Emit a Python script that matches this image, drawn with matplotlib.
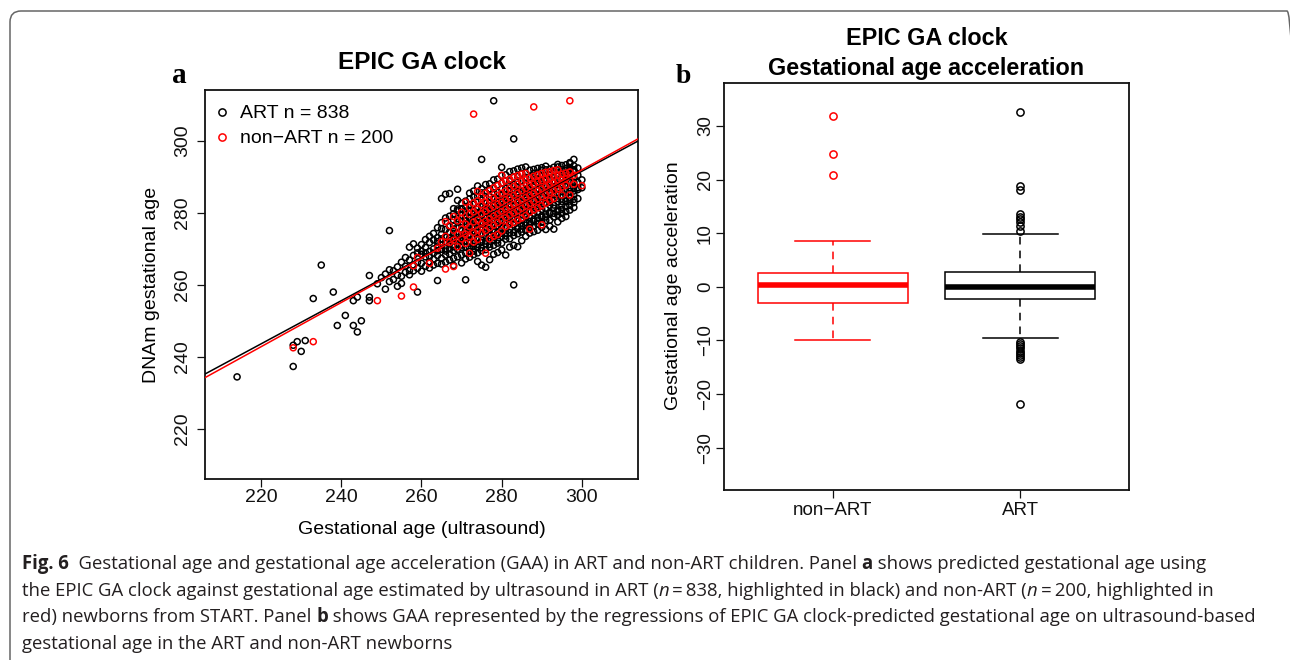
import matplotlib
matplotlib.use("Agg")
import matplotlib.pyplot as plt
from matplotlib import font_manager
from matplotlib.patches import FancyBboxPatch
from matplotlib.transforms import IdentityTransform
from matplotlib.lines import Line2D

# ---------------- data ----------------
# Panel a: ART newborns, grouped by ultrasound gestational age (days)
art_ga = [214, 228, 229, 230, 231, 233, 235, 238, 239, 241, 243, 244, 245, 247,
          249, 250, 251, 252, 253, 254, 255, 256, 257, 258, 259, 260, 261, 262,
          263, 264, 265, 266, 267, 268, 269, 270, 271, 272, 273, 274, 275, 276,
          277, 278, 279, 280, 281, 282, 283, 284, 285, 286, 287, 288, 289, 290,
          291, 292, 293, 294, 295, 296, 297, 298, 299, 300]
art_dnam = [
    [234.4], [237.3, 243.2], [244.2], [241.5], [244.5], [256.2], [265.5], [258.0],
    [248.7], [251.5], [248.7, 255.6], [246.9, 256.6], [250.0], [256.6, 255.6, 262.6],
    [260.3], [262.0], [258.8, 263.0], [275.1, 260.9, 264.2], [263.9, 261.5],
    [259.6, 262.7, 265.0], [260.4, 262.4, 266.3], [263.5, 265.2, 267.6],
    [264.0, 270.5, 262.8, 266.9], [265.5, 268.2, 263.9, 271.4],
    [258.0, 266.3, 268.9, 264.6, 270.2], [266.0, 268.5, 271.2, 263.8, 269.4],
    [265.2, 267.8, 270.4, 272.6, 268.9], [266.4, 269.3, 271.8, 264.7, 273.5, 267.9],
    [267.1, 270.0, 272.5, 265.5, 274.3, 268.8],
    [261.2, 268.2, 270.8, 273.1, 266.0, 275.9, 269.5, 272.0],
    [267.4, 269.9, 272.8, 274.1, 277.3, 265.8, 271.0, 284.0, 275.6],
    [268.3, 270.1, 273.2, 275.4, 266.3, 278.6, 271.9, 285.2, 269.4],
    [268.6, 271.4, 273.0, 276.2, 266.9, 279.1, 274.7, 270.0, 272.3, 285.4],
    [269.5, 271.2, 274.3, 276.5, 267.4, 279.8, 273.0, 275.5, 270.6, 278.0, 265.4, 281.2],
    [269.9, 272.4, 274.2, 277.5, 267.8, 280.6, 273.1, 276.1, 271.2, 278.4, 281.1, 283.5, 286.6],
    [270.4, 272.2, 275.3, 277.6, 268.3, 281.2, 274.0, 276.7, 271.1, 279.3, 266.1, 282.7, 273.2],
    [270.5, 273.4, 275.2, 278.6, 268.8, 281.7, 274.6, 276.8, 272.3, 279.5, 267.2, 283.3, 280.5, 261.4, 277.7],
    [271.6, 273.5, 276.4, 278.5, 269.3, 282.3, 275.1, 277.2, 272.2, 280.4, 267.7, 283.9, 285.5, 270.3, 274.1],
    [271.5, 274.6, 276.3, 279.7, 269.4, 282.4, 275.8, 277.9, 273.3, 280.6, 268.4, 284.5, 286.1, 270.7, 278.6],
    [272.6, 274.5, 277.4, 279.6, 270.4, 283.4, 276.2, 278.8, 273.2, 281.6, 268.9, 284.6, 287.5, 271.2, 266.5, 280.1],
    [272.5, 275.6, 277.5, 280.7, 270.3, 283.5, 276.9, 279.4, 274.3, 281.7, 269.5, 285.6, 286.7, 271.8, 294.9, 265.5],
    [273.6, 275.5, 278.5, 280.8, 271.4, 284.5, 277.3, 279.3, 274.4, 282.8, 269.8, 285.7, 287.9, 264.9, 272.2, 281.6],
    [273.7, 276.6, 278.6, 281.8, 271.3, 284.6, 277.9, 280.5, 275.4, 282.7, 270.5, 286.7, 288.1, 272.8, 267.0, 279.2],
    [274.7, 276.5, 279.6, 281.9, 272.4, 285.6, 278.0, 280.4, 275.3, 283.9, 271.0, 286.8, 289.2, 273.3, 311.2, 268.5, 282.7],
    [274.6, 277.7, 279.5, 282.9, 272.5, 285.7, 278.9, 281.5, 276.5, 283.8, 271.6, 287.8, 289.4, 269.0, 273.8, 280.2],
    [275.7, 277.6, 280.7, 282.8, 273.5, 286.7, 279.0, 281.6, 276.4, 284.9, 271.6, 288.3, 290.4, 292.7, 269.7, 274.3, 283.7],
    [275.8, 278.7, 280.6, 283.9, 273.6, 286.8, 279.9, 282.6, 277.5, 285.0, 272.7, 288.9, 290.6, 274.4, 268.3, 281.4],
    [276.8, 278.8, 281.7, 283.9, 274.5, 287.8, 280.0, 282.5, 277.6, 286.0, 272.8, 288.9, 291.5, 275.4, 270.5, 284.8],
    [276.7, 279.8, 281.8, 284.9, 274.6, 287.9, 281.0, 283.6, 278.6, 286.1, 273.7, 289.9, 291.7, 271.0, 260.0, 300.6, 282.3],
    [277.8, 279.7, 282.8, 285.0, 275.6, 288.9, 281.1, 283.7, 278.5, 287.1, 274.2, 290.1, 292.2, 270.6, 276.3, 285.9],
    [277.9, 280.8, 282.8, 286.0, 275.5, 289.0, 282.1, 284.6, 279.6, 287.2, 274.7, 291.0, 292.5, 276.6, 272.3, 283.4],
    [278.9, 280.9, 283.9, 286.1, 276.6, 289.9, 282.2, 284.8, 279.7, 288.2, 275.2, 291.1, 292.8, 277.3, 273.5, 285.6],
    [278.8, 281.9, 283.8, 287.1, 276.7, 290.0, 283.2, 285.7, 280.7, 288.3, 275.8, 291.9, 277.6, 274.4, 286.4],
    [279.9, 282.0, 284.9, 287.2, 277.7, 291.0, 283.3, 285.8, 280.8, 289.3, 276.3, 292.1, 278.2, 274.8, 290.0],
    [280.0, 283.0, 284.9, 288.2, 277.8, 291.1, 284.3, 286.8, 281.8, 289.4, 276.9, 292.4, 278.7, 275.2, 282.4],
    [281.0, 283.1, 285.9, 288.3, 278.8, 291.9, 284.4, 286.9, 281.9, 290.4, 277.4, 292.6, 279.2, 276.0, 287.7],
    [281.1, 284.0, 286.0, 289.2, 278.9, 292.0, 285.4, 287.8, 282.9, 290.5, 277.9, 279.7, 275.4, 293.0],
    [282.1, 284.2, 287.0, 289.3, 279.8, 292.2, 285.5, 288.0, 283.0, 291.4, 278.0, 280.2, 276.3, 290.6],
    [282.2, 285.1, 287.1, 290.2, 279.9, 292.7, 286.5, 288.9, 283.9, 291.5, 278.9, 275.5, 281.3],
    [283.1, 285.2, 288.0, 290.3, 280.8, 292.8, 286.6, 289.0, 284.0, 291.9, 279.4, 277.5, 280.4, 293.5],
    [283.2, 286.0, 288.1, 291.0, 281.0, 293.2, 287.5, 289.9, 284.9, 292.0, 279.9, 278.5, 282.2],
    [284.0, 286.1, 289.0, 291.1, 281.8, 293.4, 287.6, 290.0, 285.0, 292.3, 280.4, 279.0, 283.2],
    [284.2, 287.0, 289.1, 291.8, 282.1, 293.7, 288.4, 290.7, 286.0, 292.6, 283.3, 280.8, 294.0],
    [285.1, 287.2, 289.9, 292.0, 282.9, 294.9, 288.5, 291.6, 286.1, 293.1, 283.8, 281.5, 291.6],
    [286.5, 288.5, 290.5, 284.0, 292.5, 287.0],
    [289.2, 287.0],
]

# Panel a: non-ART newborns
nonart_ga = [228, 233, 249, 255, 258, 259, 262, 264, 265, 266, 267, 268, 269, 270,
             271, 272, 273, 274, 275, 276, 277, 278, 279, 280, 281, 282, 283, 284,
             285, 286, 287, 288, 289, 290, 291, 292, 293, 294, 295, 296, 297, 298, 300]
nonart_dnam = [
    [242.5], [244.2], [255.6], [256.9], [259.4, 265.3], [267.6], [266.0], [270.2],
    [272.0], [277.6, 273.5, 264.4], [276.5, 271.8], [279.0, 275.2, 272.4, 265.1],
    [277.8, 274.0, 270.6], [278.4, 275.5, 272.8, 280.2], [283.0, 276.9, 274.1, 271.5],
    [279.6, 276.2, 273.4, 268.8, 281.5], [280.3, 277.5, 274.6, 282.8, 271.9, 307.5],
    [281.0, 278.0, 275.2, 283.4, 272.6, 286.0], [279.8, 277.0, 282.3, 274.4, 284.5],
    [280.5, 277.7, 283.0, 275.1, 268.8, 285.5], [281.2, 278.4, 283.6, 275.9, 286.2, 272.8],
    [281.8, 279.1, 284.2, 276.6, 287.0, 273.5], [282.4, 279.7, 284.9, 277.3, 287.6, 274.0],
    [283.0, 280.4, 285.5, 278.0, 288.3, 275.0, 290.5], [283.7, 281.0, 286.1, 278.7, 288.9, 276.2],
    [284.3, 281.7, 286.8, 279.4, 289.4, 276.8], [284.9, 282.4, 287.4, 280.0, 290.0, 277.3],
    [285.5, 283.0, 288.0, 280.6, 290.4, 278.0], [286.2, 283.6, 288.7, 281.3, 290.8, 278.6],
    [286.8, 284.3, 289.2, 282.0, 291.0, 279.3], [287.4, 284.9, 289.7, 282.6, 275.5, 280.2],
    [288.0, 285.5, 290.2, 283.2, 280.8, 309.5], [288.6, 286.1, 290.6, 283.9, 281.4],
    [289.0, 286.7, 291.0, 284.5, 276.7, 282.0], [289.4, 287.3, 291.3, 285.1, 282.7],
    [289.8, 287.8, 291.5, 285.7, 283.4], [290.2, 288.3, 291.8, 286.2, 284.0],
    [290.5, 288.8, 292.0, 286.7], [290.8, 289.2, 287.2, 285.0], [291.1, 289.6, 287.7],
    [291.4, 289.0, 285.0, 311.2], [290.5, 288.0], [287.6],
]

# Regression lines (intercept, slope)
art_fit = (111.6, 0.600)
nonart_fit = (107.5, 0.615)
legend_labels = ["ART n = 838", "non\u2212ART n = 200"]

# Panel b: gestational age acceleration boxplots
groups = ["non\u2212ART", "ART"]
gaa_q1 = [-3.1, -2.3]
gaa_median = [0.3, 0.0]
gaa_q3 = [2.5, 2.7]
gaa_whislo = [-9.9, -9.5]
gaa_whishi = [8.6, 9.9]
nonart_outliers = [31.8, 24.7, 20.8]
art_outliers = [32.5, 18.8, 18.0, 13.5, 13.1, 12.6, 12.1, 11.3, 10.4,
                -10.3, -10.7, -11.1, -11.5, -11.9, -12.3, -12.7, -13.1, -13.4, -21.9]
group_colors = ["#ff0000", "#000000"]

# ---------------- figure ----------------
W, H = 1290, 660
fig = plt.figure(figsize=(W / 100, H / 100), dpi=100)
plt.rcParams['font.family'] = ['Liberation Sans', 'DejaVu Sans']


def fx(x):
    return x / W


def fy(y):
    return 1 - y / H


# outer rounded frame (only top and left edges fall inside the picture)
frame = FancyBboxPatch((10, -60), 1288, H - 11 + 60,
                       boxstyle="round,pad=0,rounding_size=11",
                       transform=IdentityTransform(), fill=False,
                       ec="#666666", lw=1.1)
fig.add_artist(frame)

# ---------- panel a ----------
ax = fig.add_axes([fx(205), fy(479), (638 - 205) / W, (479 - 90) / H])
ax.set_xlim(206, 314)
ax.set_ylim(206, 314.2)

ax_x = [g for g, ys in zip(art_ga, art_dnam) for _ in ys]
ax_y = [y for ys in art_dnam for y in ys]
nx_x = [g for g, ys in zip(nonart_ga, nonart_dnam) for _ in ys]
nx_y = [y for ys in nonart_dnam for y in ys]

ax.scatter(ax_x, ax_y, s=19, facecolors='none', edgecolors='black', linewidths=1.1, zorder=2)
ax.scatter(nx_x, nx_y, s=19, facecolors='none', edgecolors='#ff0000', linewidths=1.1, zorder=3)
ax.axline((0, art_fit[0]), slope=art_fit[1], color='black', lw=1.1, zorder=4)
ax.axline((0, nonart_fit[0]), slope=nonart_fit[1], color='#ff0000', lw=1.1, zorder=5)

ax.set_xticks([220, 240, 260, 280, 300])
ax.set_yticks([220, 240, 260, 280, 300])
ax.tick_params(axis='both', direction='out', length=5.8, width=0.9, labelsize=14, colors='#111111')
ax.tick_params(axis='x', pad=1.5)
ax.tick_params(axis='y', pad=4.0)
for lab in ax.get_yticklabels():
    lab.set_rotation(90)
    lab.set_va('center')
for sp in ax.spines.values():
    sp.set_linewidth(1.3)
    sp.set_color('#111111')

handles = [Line2D([], [], ls='none', marker='o', ms=5.2, mfc='none', mec=c, mew=1.1)
           for c in ['black', '#ff0000']]
ax.legend(handles, legend_labels, loc='upper left', bbox_to_anchor=(0.017, 0.962),
          frameon=False, fontsize=14, handlelength=1.0, handletextpad=0.42,
          labelspacing=0.38, borderpad=0, borderaxespad=0)

fig.text(fx(421.7), fy(69), "EPIC GA clock", ha='center', va='baseline',
         fontsize=17.5, fontweight='bold')
fig.text(fx(421.7), fy(529), "Gestational age (ultrasound)", ha='center', va='center', fontsize=14)
fig.text(fx(152), fy(285), "DNAm gestational age", ha='center', va='center',
         rotation=90, fontsize=14)
fig.text(fx(179), fy(83), "a", ha='center', va='baseline', fontsize=21, fontweight='bold',
         family=['Liberation Serif', 'DejaVu Serif'])

# ---------- panel b ----------
bx = fig.add_axes([fx(724), fy(490), (1129 - 724) / W, (490 - 83) / H])
stats = []
for i, g in enumerate(groups):
    stats.append(dict(label=g, q1=gaa_q1[i], med=gaa_median[i], q3=gaa_q3[i],
                      whislo=gaa_whislo[i], whishi=gaa_whishi[i],
                      fliers=[nonart_outliers, art_outliers][i]))
res = bx.bxp(stats, positions=[1, 2], widths=0.8, showfliers=True, patch_artist=True,
             boxprops=dict(lw=1.1, facecolor='white'),
             medianprops=dict(lw=4.0, solid_capstyle='butt'),
             whiskerprops=dict(lw=1.1, ls=(0, (5, 4))),
             capprops=dict(lw=1.1), capwidths=0.4,
             flierprops=dict(marker='o', ms=5.2, mfc='none', mew=1.1, ls='none'))
for i, c in enumerate(group_colors):
    res['boxes'][i].set_edgecolor(c)
    res['medians'][i].set_color(c)
    for w in res['whiskers'][2 * i:2 * i + 2]:
        w.set_color(c)
    for cp in res['caps'][2 * i:2 * i + 2]:
        cp.set_color(c)
    res['fliers'][i].set_markeredgecolor(c)

bx.set_xlim(0.42, 2.58)
bx.set_ylim(-37.9, 38.0)
bx.set_xticks([1, 2], groups)
bx.set_yticks([-30, -20, -10, 0, 10, 20, 30])
bx.tick_params(axis='both', direction='out', length=5.8, width=0.9, labelsize=13.5, colors='#111111')
bx.tick_params(axis='x', pad=2.6)
bx.tick_params(axis='y', pad=1.5)
for lab in bx.get_yticklabels():
    lab.set_rotation(90)
    lab.set_va('center')
for sp in bx.spines.values():
    sp.set_linewidth(1.3)
    sp.set_color('#111111')

fig.text(fx(926.5), fy(45), "EPIC GA clock", ha='center', va='baseline',
         fontsize=16.8, fontweight='bold')
fig.text(fx(926.5), fy(75), "Gestational age acceleration", ha='center', va='baseline',
         fontsize=16.8, fontweight='bold')
fig.text(fx(674), fy(286), "Gestational age acceleration", ha='center', va='center',
         rotation=90, fontsize=14)
fig.text(fx(683), fy(83), "b", ha='center', va='baseline', fontsize=20, fontweight='bold',
         family=['Liberation Serif', 'DejaVu Serif'])

# ---------- caption ----------
cap_family = 'Liberation Sans'
for cand in ['Liberation Sans Narrow', 'Open Sans', 'Liberation Sans']:
    try:
        font_manager.findfont(font_manager.FontProperties(family=cand), fallback_to_default=False)
        cap_family = cand
        break
    except Exception:
        pass

TS = "\u2009"
caption = [
    [("Fig. 6", "bold", "normal"),
     ("  Gestational age and gestational age acceleration (GAA) in ART and non-ART children. Panel ", "normal", "normal"),
     ("a", "bold", "normal"), (" shows predicted gestational age using", "normal", "normal")],
    [("the EPIC GA clock against gestational age estimated by ultrasound in ART (", "normal", "normal"),
     ("n", "normal", "italic"), (TS + "=" + TS + "838, highlighted in black) and non-ART (", "normal", "normal"),
     ("n", "normal", "italic"), (TS + "=" + TS + "200, highlighted in", "normal", "normal")],
    [("red) newborns from START. Panel ", "normal", "normal"), ("b", "bold", "normal"),
     (" shows GAA represented by the regressions of EPIC GA clock-predicted gestational age on ultrasound-based", "normal", "normal")],
    [("gestational age in the ART and non-ART newborns", "normal", "normal")],
]
cap_baselines = [569, 596, 622, 649]
renderer = fig.canvas.get_renderer()


def place_line(pieces, y, size, draw=True):
    x = 22.0
    arts = []
    for txt, wt, st in pieces:
        t = fig.text(fx(x), fy(y), txt, ha='left', va='baseline', fontsize=size,
                     fontweight=wt, fontstyle=st, color='#231f20',
                     family=[cap_family, 'DejaVu Sans'])
        bb = t.get_window_extent(renderer=renderer)
        x += bb.width
        arts.append(t)
    if not draw:
        for a in arts:
            a.remove()
    return x - 22.0


w10 = place_line(caption[0], cap_baselines[0], 10, draw=False)
cap_size = 10 * 1184.0 / w10
cap_size = min(cap_size, 13.5)
for pieces, yb in zip(caption, cap_baselines):
    place_line(pieces, yb, cap_size)

fig.savefig("out.png", dpi=100)
